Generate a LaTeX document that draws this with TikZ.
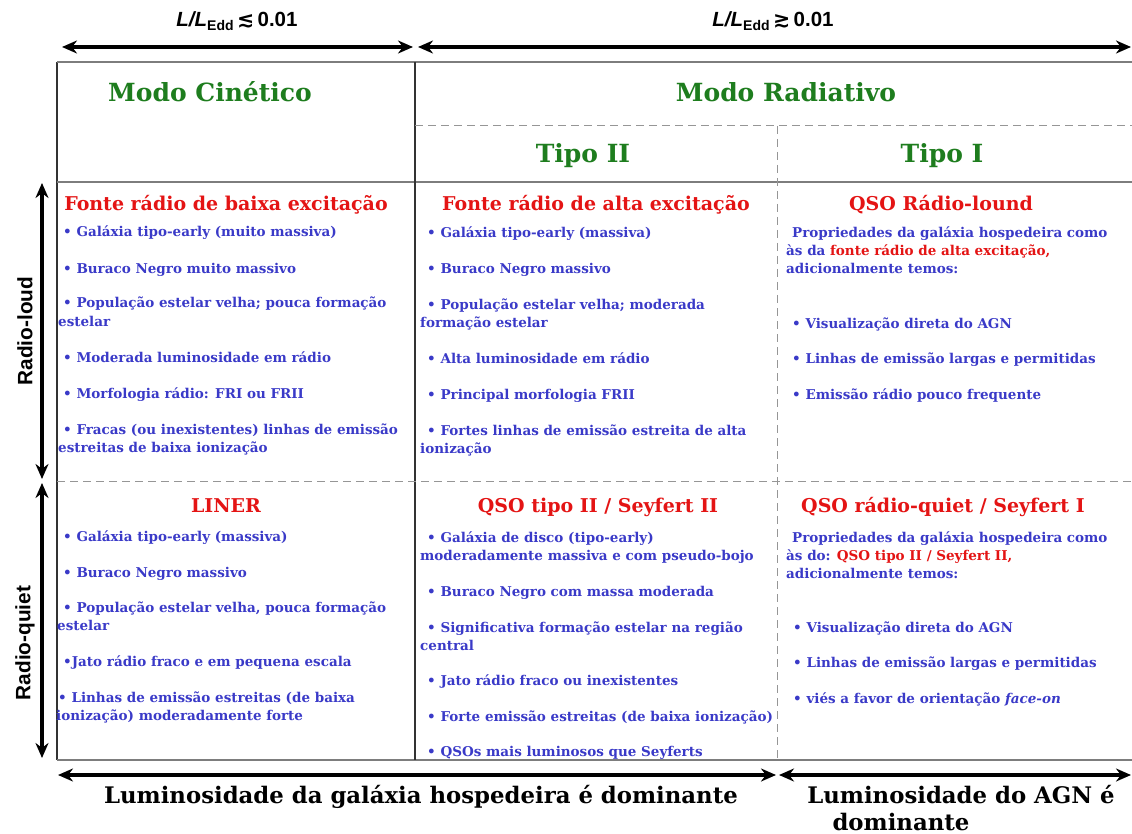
\documentclass[tikz,border=0pt]{standalone}
\usepackage{fontspec}
\setmainfont{DejaVu Serif}
\newfontfamily\sansb{Liberation Sans}
\newfontfamily\symf{DejaVu Sans}
\usetikzlibrary{arrows.meta}
\definecolor{itemblue}{RGB}{58,58,200}
\definecolor{titlered}{RGB}{228,20,20}
\definecolor{headgreen}{RGB}{30,125,30}
\definecolor{rulegray}{RGB}{125,125,125}
\definecolor{dashgray}{RGB}{150,150,150}
\begin{document}
\begin{tikzpicture}[x=1pt,y=-1pt,
  item/.style={anchor=base west, inner sep=0pt, align=left, text=itemblue, font=\bfseries\fontsize{13.5}{18}\selectfont},
  redtitle/.style={anchor=base, inner sep=0pt, text=titlered, font=\bfseries\fontsize{19}{22}\selectfont},
  greenhead/.style={anchor=base, inner sep=0pt, text=headgreen, font=\bfseries\fontsize{25}{28}\selectfont},
  bottomlabel/.style={anchor=base, inner sep=0pt, text=black, font=\bfseries\fontsize{22.8}{27}\selectfont},
  toplabel/.style={anchor=base, inner sep=0pt, font=\sansb\bfseries\fontsize{20.5}{22}\selectfont},
  sidelabel/.style={inner sep=0pt, rotate=90, font=\sansb\bfseries\fontsize{20.8}{22}\selectfont},
  bigarrow/.style={line width=3.2pt, {Stealth[length=15pt,width=13pt]}-{Stealth[length=15pt,width=13pt]}},
  solidrule/.style={rulegray, line width=1.8pt},
  darkrule/.style={black!80, line width=1.5pt},
  dashrule/.style={dashgray, line width=1pt, dash pattern=on 8pt off 5pt}]
\fill[white] (0,0) rectangle (1132,834);
\useasboundingbox (0,0) rectangle (1132,834);

% table rules
\draw[darkrule] (57,62) -- (57,760);
\draw[solidrule] (57,62) -- (1132,62);
\draw[solidrule] (57,182) -- (1132,182);
\draw[solidrule] (57,760) -- (1132,760);
\draw[darkrule] (415,62) -- (415,760);
\draw[dashrule] (415,126) -- (1132,126);
\draw[dashrule] (777,126) -- (777,760);
\draw[dashrule] (57,481) -- (1132,481);

% arrow end points
\coordinate (ta1) at (62,47);
\coordinate (ta2) at (413,47);
\coordinate (ta3) at (418,47);
\coordinate (ta4) at (1131,47);
\coordinate (la1) at (42,183);
\coordinate (la2) at (42,479);
\coordinate (la3) at (42,483);
\coordinate (la4) at (42,758);
\coordinate (ba1) at (58,775);
\coordinate (ba2) at (776,775);
\coordinate (ba3) at (779,775);
\coordinate (ba4) at (1131,775);
\draw[bigarrow] (ta1) -- (ta2);
\draw[bigarrow] (ta3) -- (ta4);
\draw[bigarrow] (la1) -- (la2);
\draw[bigarrow] (la3) -- (la4);
\draw[bigarrow] (ba1) -- (ba2);
\draw[bigarrow] (ba3) -- (ba4);

% top labels
\node[toplabel] (tl1) at (237,27) {\itshape L/L\raisebox{-4pt}{\upshape\fontsize{14}{14}\selectfont Edd}\upshape\,{\symf\bfseries ≲}\,0.01};
\node[toplabel] (tl2) at (773,27) {\itshape L/L\raisebox{-4pt}{\upshape\fontsize{14}{14}\selectfont Edd}\upshape\,{\symf\bfseries ≳}\,0.01};

% side labels
\node[sidelabel] (sl1) at (25,331) {Radio-loud};
\node[sidelabel] (sl2) at (25,643) {Radio-quiet};

% headers
\node[greenhead] (h1) at (210,102) {Modo Cinético};
\node[greenhead] (h2) at (786,102) {Modo Radiativo};
\node[greenhead] (h3) at (583,163) {Tipo II};
\node[greenhead] (h4) at (942,163) {Tipo I};

% row titles
\node[redtitle] (r1) at (226,211) {Fonte rádio de baixa excitação};
\node[redtitle] (r2) at (596,211) {Fonte rádio de alta excitação};
\node[redtitle] (r3) at (941,211) {QSO Rádio-lound};
\node[redtitle] (r4) at (226,512) {LINER};
\node[redtitle] (r5) at (598,512) {QSO tipo II / Seyfert II};
\node[redtitle] (r6) at (943,512) {QSO rádio-quiet / Seyfert I};

% cell 1
\node[item] (a1) at (58,237) {\hspace{5pt}• Galáxia tipo-early (muito massiva)};
\node[item] (a2) at (58,273) {\hspace{5pt}• Buraco Negro muito massivo};
\node[item] (a3) at (58,326) {\hspace{5pt}• População estelar velha; pouca formação\\estelar};
\node[item] (a4) at (58,362) {\hspace{5pt}• Moderada luminosidade em rádio};
\node[item] (a5) at (58,398) {\hspace{5pt}• Morfologia rádio: FRI ou FRII};
\node[item] (a6) at (58,452) {\hspace{5pt}• Fracas (ou inexistentes) linhas de emissão\\estreitas de baixa ionização};

% cell 2
\node[item] (b1) at (420,238) {\hspace{7pt}• Galáxia tipo-early (massiva)};
\node[item] (b2) at (420,274) {\hspace{7pt}• Buraco Negro massivo};
\node[item] (b3) at (420,327) {\hspace{7pt}• População estelar velha; moderada\\formação estelar};
\node[item] (b4) at (420,363) {\hspace{7pt}• Alta luminosidade em rádio};
\node[item] (b5) at (420,399) {\hspace{7pt}• Principal morfologia FRII};
\node[item] (b6) at (420,453) {\hspace{7pt}• Fortes linhas de emissão estreita de alta\\ionização};

% cell 3
\node[item] (c0) at (786,274) {\hspace{6pt}Propriedades da galáxia hospedeira como\\às da \textcolor{titlered}{fonte rádio de alta excitação,}\\adicionalmente temos:};
\node[item] (c1) at (792,328) {• Visualização direta do AGN};
\node[item] (c2) at (792,363) {• Linhas de emissão largas e permitidas};
\node[item] (c3) at (792,399) {• Emissão rádio pouco frequente};

% cell 4
\node[item] (d1) at (57,541) {\hspace{6pt}• Galáxia tipo-early (massiva)};
\node[item] (d2) at (57,577) {\hspace{6pt}• Buraco Negro massivo};
\node[item] (d3) at (57,630) {\hspace{6pt}• População estelar velha, pouca formação\\estelar};
\node[item] (d4) at (57,666) {\hspace{6pt}•Jato rádio fraco e em pequena escala};
\node[item] (d5) at (56,720) {\hspace{2pt}• Linhas de emissão estreitas (de baixa\\ionização) moderadamente forte};

% cell 5
\node[item] (e1) at (420,560) {\hspace{7pt}• Galáxia de disco (tipo-early)\\moderadamente massiva e com pseudo-bojo};
\node[item] (e2) at (420,596) {\hspace{7pt}• Buraco Negro com massa moderada};
\node[item] (e3) at (420,650) {\hspace{7pt}• Significativa formação estelar na região\\central};
\node[item] (e4) at (420,685) {\hspace{7pt}• Jato rádio fraco ou inexistentes};
\node[item] (e5) at (420,721) {\hspace{7pt}• Forte emissão estreitas (de baixa ionização)};
\node[item] (e6) at (420,756) {\hspace{7pt}• QSOs mais luminosos que Seyferts};

% cell 6
\node[item] (f0) at (786,578) {\hspace{6pt}Propriedades da galáxia hospedeira como\\às do: \textcolor{titlered}{QSO tipo II / Seyfert II,}\\adicionalmente temos:};
\node[item] (f1) at (793,632) {• Visualização direta do AGN};
\node[item] (f2) at (793,667) {• Linhas de emissão largas e permitidas};
\node[item] (f3) at (793,703) {• viés a favor de orientação \textit{face-on}};

% bottom labels
\node[bottomlabel] (bl1) at (421,803) {Luminosidade da galáxia hospedeira é dominante};
\node[bottomlabel] (bl2) at (961,803) {Luminosidade do AGN é};
\node[bottomlabel] (bl3) at (901,830) {dominante};
\end{tikzpicture}
\end{document}
